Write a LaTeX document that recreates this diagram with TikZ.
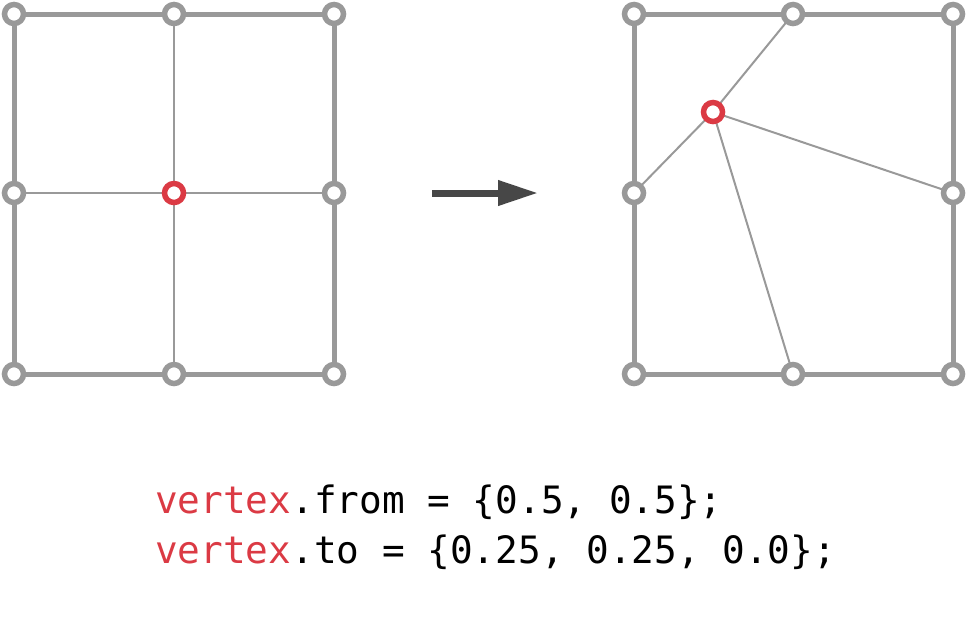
\documentclass[tikz,border=0pt]{standalone}
\usepackage{fontspec}
\newfontfamily\codefont{DejaVu Sans Mono}
\usetikzlibrary{arrows.meta}
\definecolor{gridgray}{HTML}{999999}
\definecolor{vred}{HTML}{DB3A44}
\definecolor{arrowgray}{HTML}{474747}
\tikzset{
  vtx/.style={circle, draw=gridgray, fill=white, line width=5.5pt, inner sep=0pt, minimum size=19pt},
  redvtx/.style={vtx, draw=vred},
  border/.style={draw=gridgray, line width=5pt},
  inner/.style={draw=gridgray, line width=2pt},
  bigarrow/.style={draw=arrowgray, line width=7pt, -{Triangle[length=40pt,width=24pt]}},
  code/.style={anchor=base west, inner sep=0pt, font=\codefont\fontsize{37.7}{45}\selectfont}
}
\begin{document}
\begin{tikzpicture}[x=1pt,y=-1pt]
\useasboundingbox (0,0) rectangle (968,622);
% left grid
\coordinate (La) at (14,14);  \coordinate (Lb) at (174,14);  \coordinate (Lc) at (334,14);
\coordinate (Ld) at (14,193); \coordinate (Le) at (174,193); \coordinate (Lf) at (334,193);
\coordinate (Lg) at (14,374); \coordinate (Lh) at (174,374); \coordinate (Li) at (334,374);
\draw[inner] (Lb) -- (Le) -- (Lh);
\draw[inner] (Ld) -- (Le) -- (Lf);
\draw[border] (La) -- (Lc) -- (Li) -- (Lg) -- cycle;
\foreach \n in {La,Lb,Lc,Ld,Lf,Lg,Lh,Li} \node[vtx] at (\n) {};
\node[redvtx] at (Le) {};
% right grid
\coordinate (Ra) at (634,14);  \coordinate (Rb) at (793,14);  \coordinate (Rc) at (953,14);
\coordinate (Rd) at (634,193); \coordinate (Re) at (713,112); \coordinate (Rf) at (953,193);
\coordinate (Rg) at (634,374); \coordinate (Rh) at (793,374); \coordinate (Ri) at (953,374);
\draw[inner] (Rb) -- (Re) -- (Rh);
\draw[inner] (Rd) -- (Re) -- (Rf);
\draw[border] (Ra) -- (Rc) -- (Ri) -- (Rg) -- cycle;
\foreach \n in {Ra,Rb,Rc,Rd,Rf,Rg,Rh,Ri} \node[vtx] at (\n) {};
\node[redvtx] at (Re) {};
% arrow
\coordinate (A1) at (432,193);
\coordinate (A2) at (538,193);
\draw[bigarrow] (A1) -- (A2);
% code
\node[code] (c1) at (155,513) {\textcolor{vred}{vertex}.from = \{0.5, 0.5\};};
\node[code] (c2) at (155,563) {\textcolor{vred}{vertex}.to = \{0.25, 0.25, 0.0\};};
\end{tikzpicture}
\end{document}
